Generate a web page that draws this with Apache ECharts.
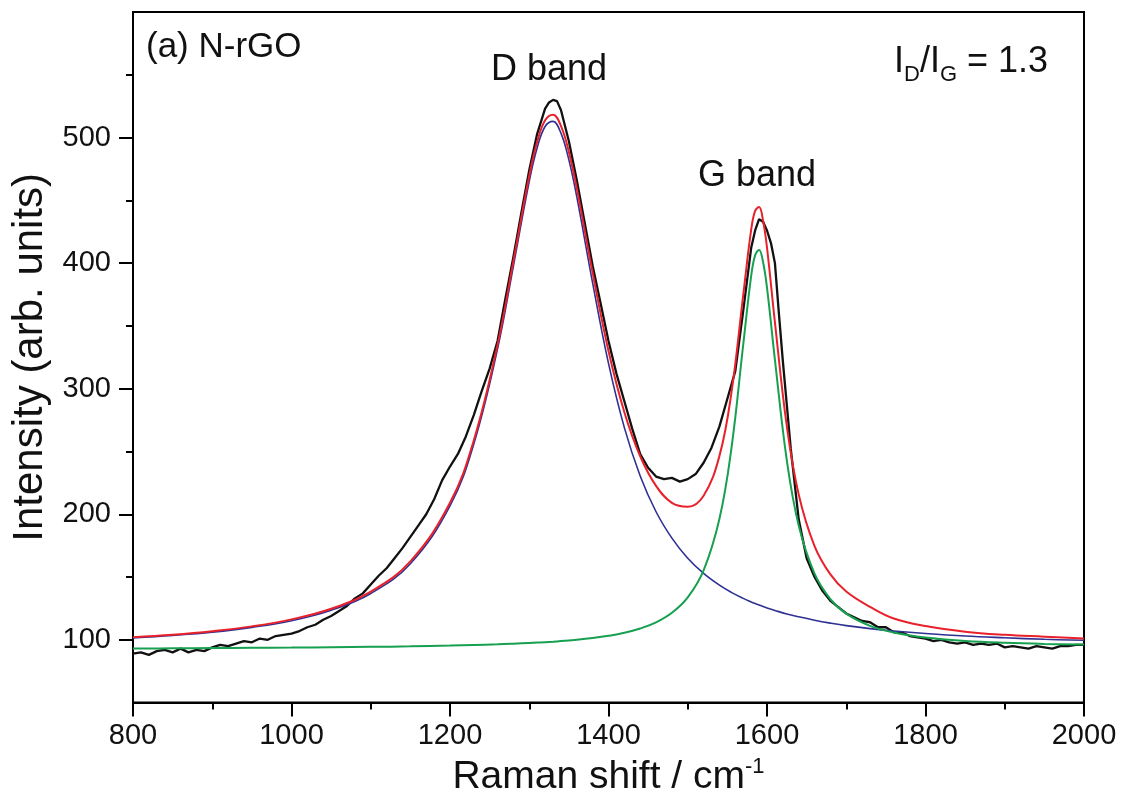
<!DOCTYPE html>
<html>
<head>
<meta charset="utf-8">
<title>N-rGO Raman</title>
<script src="https://cdn.jsdelivr.net/npm/echarts@6.0.0/dist/echarts.min.js"></script>
<style>
html, body { margin: 0; padding: 0; background: #fff; }
#chart { width: 1123px; height: 802px; }
</style>
</head>
<body>
<div id="chart"></div>
<script>
// measured spectrum (black)
var rawShift = [
  800, 810, 820, 830, 840, 850, 860, 870, 880, 890, 900, 910, 920, 930, 940, 950, 960, 970, 980, 990, 1000,
  1010, 1020, 1030, 1040, 1050, 1060, 1070, 1080, 1090, 1100, 1110, 1120, 1130, 1140, 1150, 1160, 1170, 1180, 1190, 1200,
  1210, 1220, 1230, 1240, 1250, 1260, 1270, 1280, 1290, 1300, 1310, 1320, 1325, 1330, 1335,
  1340, 1350, 1360, 1370, 1380, 1390, 1400, 1410, 1420, 1430, 1440, 1450, 1460, 1470, 1480, 1490, 1500,
  1510, 1520, 1530, 1540, 1550, 1560, 1570, 1580, 1585, 1590, 1595, 1600, 1605, 1610, 1615, 1620,
  1630, 1640, 1650, 1660, 1670, 1680, 1690, 1700, 1710, 1720, 1730, 1740, 1750, 1760, 1770, 1780, 1790, 1800,
  1810, 1820, 1830, 1840, 1850, 1860, 1870, 1880, 1890, 1900, 1910, 1920, 1930, 1940, 1950, 1960, 1970, 1980, 1990, 2000
]
var rawCounts = [
  89, 90, 88, 91, 92, 90, 93, 90, 92, 91, 94, 96, 95, 97, 99, 98, 101, 100, 103, 104, 105,
  107, 110, 112, 116, 119, 123, 127, 133, 137, 144, 151, 157, 165, 173, 182, 191, 200, 212, 227, 238,
  248, 262, 279, 298, 316, 338, 372, 405, 440, 474, 503, 523, 528, 530, 529,
  522, 497, 466, 432, 398, 368, 338, 312, 290, 268, 248, 237, 230, 228, 229, 226, 228,
  232, 241, 253, 270, 292, 314, 362, 412, 426, 435, 433, 426, 416, 400, 360, 322,
  252, 196, 165, 150, 139, 131, 126, 121, 118, 115, 114, 110, 110, 106, 106, 103, 102, 101,
  99, 100, 98, 97, 98, 96, 97, 96, 97, 94, 95, 94, 93, 95, 94, 93, 95, 95, 96, 96
]

// fitted curves: D band (blue), G band (green), cumulative fit (red)
var fitShift = [
  800, 850, 900, 950, 1000, 1050, 1100, 1150, 1200, 1230, 1260, 1280, 1300, 1310, 1320, 1330,
  1340, 1350, 1360, 1380, 1400, 1420, 1440, 1460, 1480, 1500, 1520, 1540, 1555, 1570, 1580, 1585,
  1590, 1595, 1600, 1610, 1625, 1640, 1660, 1680, 1700, 1730, 1760, 1800, 1850, 1900, 1950, 2000
]
var dBand = [
  101.5, 103.5, 106.1, 109.9, 115.2, 123.5, 136.9, 160.6, 206.7, 255.9, 331.7, 397.7, 465.2, 491.9, 508.8, 512.9,
  503.5, 482.2, 452.7, 384.0, 320.1, 269.0, 230.5, 202.0, 181.0, 165.0, 152.9, 143.5, 137.8, 133.0, 130.2, 128.9,
  127.7, 126.5, 125.4, 123.4, 120.6, 118.3, 115.6, 113.3, 111.3, 108.9, 107.0, 105.0, 103.0, 101.6, 100.4, 99.6
]
var gBand = [
  93.1, 93.2, 93.4, 93.6, 93.8, 94.1, 94.4, 94.8, 95.4, 95.9, 96.4, 96.9, 97.5, 97.8, 98.1, 98.5,
  99.0, 99.5, 100.0, 101.4, 103.2, 105.6, 109.0, 113.9, 121.5, 133.8, 155.3, 196.4, 251.9, 335.1, 389.7, 406.2,
  410.5, 400.9, 380.4, 323.0, 243.0, 191.1, 152.7, 132.4, 120.8, 111.1, 105.8, 101.8, 99.1, 97.6, 96.7, 96.2
]
var fitSum = [
  102.1, 104.1, 106.9, 110.7, 116.3, 124.7, 138.4, 162.5, 209.1, 258.8, 335.0, 401.5, 469.6, 496.6, 513.7, 518.2,
  509.3, 488.5, 459.5, 392.2, 330.0, 281.3, 246.2, 222.6, 209.1, 206.0, 214.8, 246.5, 296.3, 374.6, 426.4, 441.6,
  444.7, 433.9, 412.3, 352.9, 270.1, 215.8, 174.7, 152.1, 138.5, 126.3, 117.0, 111.0, 106.5, 104.0, 102.5, 101.0
]

var yMajor = [100, 200, 300, 400, 500]
var yMinor = [150, 250, 350, 450, 550]

var FONT = '"Liberation Sans", Arial, sans-serif'

function pairs(xs, ys) {
  return xs.map(function(x, i) { return [x, ys[i]] })
}

function lineSeries(name, data, color, width, smooth) {
  return {
    name: name,
    type: 'line',
    data: data,
    showSymbol: false,
    symbol: 'none',
    smooth: smooth,
    lineStyle: { color: color, width: width },
    emphasis: { disabled: true }
  }
}

var chart = echarts.init(document.getElementById('chart'))
chart.setOption({
  animation: false,
  backgroundColor: '#fff',
  textStyle: { fontFamily: FONT },
  grid: {
    left: 133, right: 39, top: 12, bottom: 93,
    show: true, borderColor: '#000', borderWidth: 2
  },
  xAxis: {
    type: 'value',
    min: 800,
    max: 2000,
    interval: 200,
    name: 'Raman shift / cm{sup|-1}',
    nameLocation: 'middle',
    nameGap: 37,
    nameTextStyle: {
      fontSize: 39, color: '#111', fontFamily: FONT,
      rich: { sup: { fontSize: 22, padding: [0, 0, 22, 0], color: '#111', fontFamily: FONT } }
    },
    axisLine: { lineStyle: { color: '#000', width: 2 } },
    axisTick: { length: 14, lineStyle: { color: '#000', width: 2 } },
    minorTick: { show: true, splitNumber: 2, length: 7, lineStyle: { color: '#000', width: 2 } },
    axisLabel: {
      fontSize: 29, color: '#111', margin: 19, fontFamily: FONT,
      formatter: function(v) { return String(v) }
    },
    splitLine: { show: false }
  },
  yAxis: [
    {
      type: 'value',
      min: 50,
      max: 600,
      position: 'left',
      name: 'Intensity (arb. units)',
      nameLocation: 'middle',
      nameGap: 76,
      nameTextStyle: { fontSize: 42, color: '#111', fontFamily: FONT },
      axisLine: { show: true, lineStyle: { color: '#000', width: 2 } },
      axisTick: { show: true, length: 14, lineStyle: { color: '#000', width: 2 }, customValues: yMajor },
      axisLabel: { fontSize: 29, color: '#111', margin: 22, fontFamily: FONT, customValues: yMajor },
      splitLine: { show: false }
    },
    {
      // minor ticks only
      type: 'value',
      min: 50,
      max: 600,
      position: 'left',
      axisLine: { show: false },
      axisTick: { show: true, length: 7, lineStyle: { color: '#000', width: 2 }, customValues: yMinor },
      axisLabel: { show: false },
      splitLine: { show: false }
    }
  ],
  graphic: [
    { type: 'text', x: 146, y: 30, style: { text: '(a) N-rGO', fontSize: 35, fontFamily: FONT, fill: '#111' } },
    { type: 'text', x: 549, y: 52, style: { text: 'D band', fontSize: 36, fontFamily: FONT, fill: '#111', textAlign: 'center' } },
    { type: 'text', x: 757, y: 158, style: { text: 'G band', fontSize: 36, fontFamily: FONT, fill: '#111', textAlign: 'center' } },
    {
      type: 'text', x: 894, y: 38,
      style: {
        text: 'I{s|D}/I{s|G} = 1.3', fontSize: 36, fontFamily: FONT, fill: '#111',
        rich: { s: { fontSize: 22, fontFamily: FONT, fill: '#111', padding: [26, 0, 0, 0] } }
      }
    }
  ],
  series: [
    lineSeries('measured', pairs(rawShift, rawCounts), '#111', 2.3, false),
    lineSeries('D band', pairs(fitShift, dBand), '#2e3192', 1.6, 0.4),
    lineSeries('G band', pairs(fitShift, gBand), '#17a050', 2, 0.4),
    lineSeries('fit', pairs(fitShift, fitSum), '#e8212b', 2, 0.4)
  ]
})
</script>
</body>
</html>
